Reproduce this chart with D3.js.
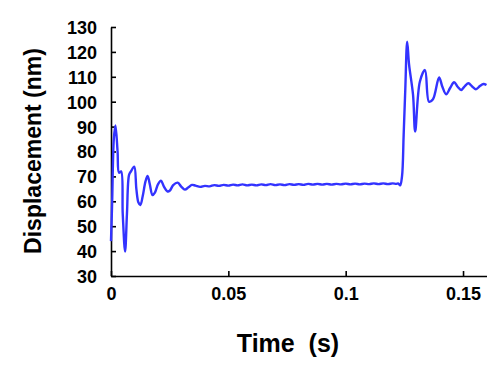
<!DOCTYPE html>
<html><head><meta charset="utf-8">
<script src="https://cdn.jsdelivr.net/npm/d3@7"></script>
<style>
html,body{margin:0;padding:0;background:#fff;}
svg text{font-family:"Liberation Sans",Arial,sans-serif;font-weight:bold;fill:#000;}
</style></head>
<body><svg id="c" width="502" height="367"></svg>
<script>
const timeS = [0,0.0005,0.0012,0.0019,0.0028,0.0034,0.0043,0.0050,0.0060,0.0068,0.0077,0.0085,0.0099,0.0108,0.0117,0.0125,0.0135,0.0147,0.0156,0.0165,0.0177,0.0187,0.0200,0.0213,0.0225,0.0240,0.0250,0.0265,0.0284,0.0300,0.0315,0.0330,0.0345,0.0360,0.0380,0.0400,0.0420,0.0440,0.0460,0.0480,0.0500,0.0520,0.0540,0.0560,0.0580,0.0600,0.0620,0.0640,0.0660,0.0680,0.0700,0.0720,0.0740,0.0760,0.0780,0.0800,0.0820,0.0840,0.0860,0.0880,0.0900,0.0920,0.0940,0.0960,0.0980,0.1000,0.1020,0.1040,0.1060,0.1080,0.1100,0.1120,0.1140,0.1160,0.1180,0.1200,0.1215,0.1225,0.1232,0.1240,0.1247,0.1254,0.1262,0.1270,0.1287,0.1296,0.1316,0.1338,0.1355,0.1372,0.1398,0.1412,0.1428,0.1445,0.1462,0.1477,0.1492,0.1508,0.1523,0.1540,0.1555,0.1572,0.1587,0.1600];
const displacementNm = [44,60,85,90.5,80,71.5,72,55,39.8,55,70.6,72,73.9,65,59.5,58.5,62,68,70.2,67,62.5,63.5,66.8,68.3,66,64,64.2,66.5,67.5,65.8,64.7,65.6,66.6,66.3,65.8,66.2,66.0,66.5,66.2,66.6,66.3,66.7,66.4,66.8,66.4,66.7,66.4,66.8,66.5,66.9,66.5,66.8,66.5,66.9,66.6,66.9,66.6,67.0,66.7,67.0,66.7,67.0,66.7,67.0,66.8,67.1,66.8,67.1,66.8,67.1,66.9,67.2,66.9,67.2,66.9,67.2,67.0,67.1,66.4,70,86.6,105,124.1,115,102.7,88,108,112.7,100,101,109.7,106,103,105.5,107.8,106,104.7,106.3,107.4,106,105,106.3,107.1,106.7];
const xTicks = [0,0.05,0.1,0.15];
const xTickLabels = ["0","0.05","0.1","0.15"];
const yTicks = [30,40,50,60,70,80,90,100,110,120,130];
const xTitle = "Time  (s)";
const yTitle = "Displacement (nm)";

const svg = d3.select("#c");
const x = d3.scaleLinear().domain([0,0.16]).range([111,486.5]);
const y = d3.scaleLinear().domain([30,130]).range([276,27]);

const gx = svg.append("g").attr("transform","translate(0,276)")
  .call(d3.axisBottom(x).tickValues(xTicks).tickFormat((d,i)=>xTickLabels[i]).tickSizeInner(-5).tickSizeOuter(0).tickPadding(14));
const gy = svg.append("g").attr("transform","translate(111,0)")
  .call(d3.axisLeft(y).tickValues(yTicks).tickSizeInner(-5).tickSizeOuter(0).tickPadding(14));
[gx,gy].forEach(g=>{
  g.select(".domain").attr("stroke","#000").attr("stroke-width",1.6);
  g.selectAll(".tick line").attr("stroke","#000").attr("stroke-width",1.6);
  g.selectAll(".tick text").style("font-size","18px").style("font-family","'Liberation Sans',Arial,sans-serif").style("font-weight","bold").attr("fill","#000");
});
gy.selectAll(".tick text").attr("x",-14).attr("dy","0.36em");
gx.selectAll(".tick text").attr("dy","0.71em").attr("y",11);

const pts = timeS.map((t,i)=>[t,displacementNm[i]]);
svg.append("path").datum(pts)
  .attr("fill","none").attr("stroke","#3333ff").attr("stroke-width",2.4)
  .attr("stroke-linejoin","round")
  .attr("d", d3.line().x(d=>x(d[0])).y(d=>y(d[1])).curve(d3.curveCatmullRom.alpha(0.5)));

svg.append("text").attr("x",288).attr("y",352).attr("text-anchor","middle")
  .style("font-size","25px").style("white-space","pre").text(xTitle);
svg.append("text").attr("transform","translate(41,151) rotate(-90)").attr("text-anchor","middle")
  .style("font-size","23px").text(yTitle);
</script></body></html>
